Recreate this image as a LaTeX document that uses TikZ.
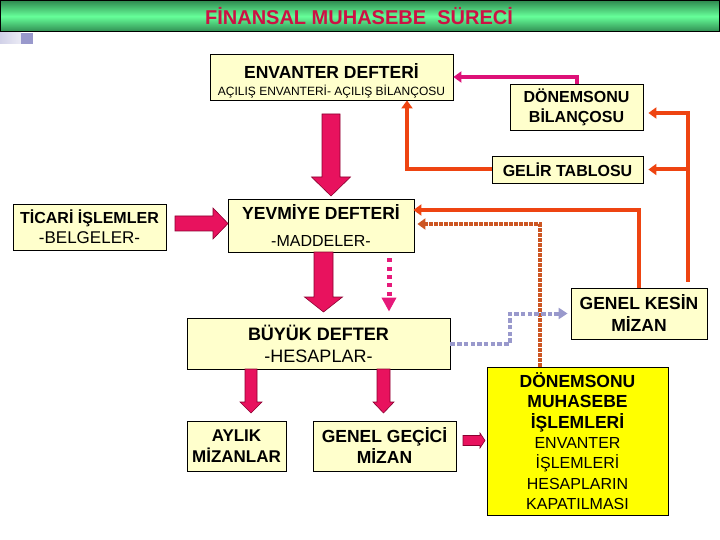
\documentclass[tikz,border=0pt]{standalone}
\usepackage{fontspec}
\setmainfont{Liberation Sans}
\usetikzlibrary{arrows.meta,calc}
\definecolor{bx}{HTML}{FFFFCC}
\definecolor{ylw}{HTML}{FFFF00}
\definecolor{pk}{HTML}{E8125E}
\definecolor{pkd}{HTML}{8A0030}
\definecolor{orn}{HTML}{EE4411}
\definecolor{ornd}{HTML}{CC5522}
\definecolor{lav}{HTML}{9999CC}
\definecolor{mg}{HTML}{DD1177}
\definecolor{pdot}{HTML}{E6197A}
\definecolor{ttl}{HTML}{CC1144}
\definecolor{tbd}{HTML}{2F8A50}
\definecolor{tbb}{HTML}{66FF99}
\newcommand\vblk[6]{%
  \filldraw[blk] (#1-#4,#2) -- (#1+#4,#2) -- (#1+#4,#3-#6) -- (#1+#5,#3-#6) -- (#1,#3) -- (#1-#5,#3-#6) -- (#1-#4,#3-#6) -- cycle;}
\newcommand\hblk[6]{%
  \filldraw[blk] (#2,#1-#4) -- (#2,#1+#4) -- (#3-#6,#1+#4) -- (#3-#6,#1+#5) -- (#3,#1) -- (#3-#6,#1-#5) -- (#3-#6,#1-#4) -- cycle;}
\newcommand\bfl{\bfseries\fontsize{17.5}{20.33}\selectfont}
\begin{document}
\begin{tikzpicture}[x=1pt,y=-1pt,
  ybox/.style={draw=black, line width=0.8pt, fill=bx, inner sep=0pt, align=center},
  blk/.style={fill=pk, draw=pkd, line width=0.6pt, line join=miter},
  orl/.style={draw=orn, line width=4pt, -{Triangle[length=8pt,width=11pt]}},
  mgl/.style={draw=mg, line width=4pt, -{Triangle[length=8pt,width=11pt]}},
  odl/.style={draw=ornd, line width=4pt, dash pattern=on 3.3pt off 1.7pt, -{Triangle[length=8pt,width=11pt]}},
  lvl/.style={draw=lav, line width=4pt, dash pattern=on 4.5pt off 2.2pt, -{Triangle[length=9pt,width=11pt]}},
  pdl/.style={draw=pdot, line width=5pt, dash pattern=on 4pt off 4.3pt, -{Triangle[length=14pt,width=14pt]}}
]
\useasboundingbox (0,0) rectangle (720,540);
% title bar
\shade[top color=tbd, bottom color=tbd, middle color=tbb] (0.5,0.5) rectangle (719.5,32);
\draw[black, line width=1pt] (0.5,0.5) rectangle (719.5,32);
\node[text=ttl, font=\bfseries\fontsize{20}{24}\selectfont] (title) at (359,16) {FİNANSAL MUHASEBE\ \ SÜRECİ};
\shade[left color=lav!45, right color=lav!20] (0,33) rectangle (21,44);
\fill[lav] (21,33) rectangle (33,44);

% boxes
\node[ybox, minimum width=243pt, minimum height=46pt] (env) at (331.5,77) {};
\node[align=center, font=\fontsize{12}{17}\selectfont] (envt) at ($(env.center)+(0,3.5)$)
  {{\bfseries\fontsize{17.5}{17}\selectfont ENVANTER DEFTERİ}\\AÇILIŞ ENVANTERİ- AÇILIŞ BİLANÇOSU};
\node[ybox, minimum width=133pt, minimum height=46pt, font=\bfseries\fontsize{16}{20}\selectfont] (dbil) at (576.5,107) {DÖNEMSONU\\BİLANÇOSU};
\node[ybox, minimum width=151pt, minimum height=27pt, font=\bfseries\fontsize{16}{20}\selectfont] (gel) at (567.5,169.5) {GELİR TABLOSU};
\node[ybox, minimum width=153pt, minimum height=46pt, font=\fontsize{17}{20}\selectfont] (tic) at (89.5,227)
  {{\bfseries\fontsize{16}{20}\selectfont TİCARİ İŞLEMLER}\\-BELGELER-};
\node[ybox, minimum width=186pt, minimum height=53pt, font=\fontsize{16}{27}\selectfont] (yev) at (321,225.5)
  {{\bfseries\fontsize{17.5}{27}\selectfont YEVMİYE DEFTERİ}\\-MADDELER-};
\node[ybox, minimum width=136pt, minimum height=51pt, font=\bfseries\fontsize{17.5}{22}\selectfont] (gk) at (639,313.5) {GENEL KESİN\\MİZAN};
\node[ybox, minimum width=263pt, minimum height=51pt, font=\fontsize{18}{22}\selectfont] (buy) at (318.5,343.5)
  {{\bfseries BÜYÜK DEFTER}\\-HESAPLAR-};
\node[ybox, minimum width=99pt, minimum height=50pt, font=\bfseries\fontsize{17}{21}\selectfont] (ayl) at (236.5,446) {AYLIK\\MİZANLAR};
\node[ybox, minimum width=143pt, minimum height=50pt, font=\bfseries\fontsize{17.5}{21}\selectfont] (ggm) at (384.5,446) {GENEL GEÇİCİ\\MİZAN};
\node[ybox, fill=ylw, minimum width=181pt, minimum height=148pt, font=\fontsize{16}{20.33}\selectfont] (dmi) at (577.5,441)
  {{\bfl DÖNEMSONU}\\{\bfl MUHASEBE}\\{\bfl İŞLEMLERİ}\\ENVANTER\\İŞLEMLERİ\\HESAPLARIN\\KAPATILMASI};

% block arrows
\vblk{331}{114}{196}{9}{19.5}{19}
\vblk{323.5}{252}{312}{9.5}{19}{15}
\vblk{251}{369}{413}{6}{11}{11}
\vblk{383.5}{369}{413}{6.5}{10.5}{11}
\hblk{223.5}{175}{228}{7.5}{15.5}{15}
\hblk{440.5}{463}{485}{5}{7.5}{5}

% helper coordinates
\coordinate (c407) at (407,0);
\coordinate (c688) at (688,0);
\coordinate (c540) at (540,0);
\coordinate (c510) at (510,0);
\coordinate (c389) at (389,0);

% connectors
\draw[mgl] (dbil.north) |- (env.east);
\draw[orl] (gel.west) -| (c407 |- env.south);
\draw[orl, shorten >=5pt] ($(c688 |- gk.north)+(0,-6)$) |- ($(dbil.east)+(0,6)$);
\draw[orl, shorten >=5pt] (c688 |- gel.east) -- (gel.east);
\draw[orl, shorten >=-1pt] (gk.north) |- ($(yev.east)+(0,-15.5)$);
\draw[odl, shorten >=3pt] (c540 |- dmi.north) |- ($(yev.east)+(0,-1.5)$);
\draw[lvl, shorten >=3pt] (buy.east) -- (c510 |- buy.east) -- (c510 |- gk.west) -- (gk.west);
\draw[pdl] ($(c389 |- yev.south)+(0,6)$) -- ($(c389 |- buy.north)+(0,-6)$);
\end{tikzpicture}
\end{document}
